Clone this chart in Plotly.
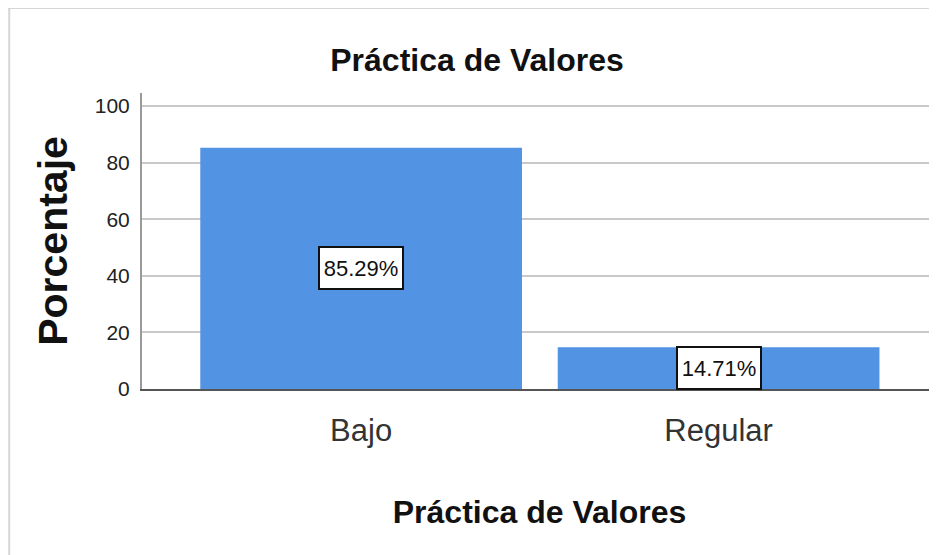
import plotly.graph_objects as go

categorias = ['Bajo', 'Regular']
porcentajes = [85.29, 14.71]
etiquetas = ['85.29%', '14.71%']
ticks_y = [0, 20, 40, 60, 80, 100]

fig = go.Figure()

fig.add_trace(go.Bar(
    x=categorias,
    y=porcentajes,
    width=0.9,
    marker=dict(color='#5393e3', line=dict(width=0)),
    showlegend=False,
    hoverinfo='skip'
))

# value labels in white boxes, placed at the middle of each bar
for c, v, t in zip(categorias, porcentajes, etiquetas):
    fig.add_annotation(
        x=c, y=v / 2, text=t, showarrow=False,
        font=dict(family='Liberation Sans, Arial', size=22, color='#111111'),
        bgcolor='white', bordercolor='#111111', borderwidth=2, borderpad=3,
        width=76, height=34
    )

# thin grey frame around the picture (top and left edges)
fig.add_shape(type='line', xref='paper', yref='paper',
              x0=-0.17, x1=1.0, y0=1.287, y1=1.287,
              line=dict(color='#d6d6d6', width=2))
fig.add_shape(type='line', xref='paper', yref='paper',
              x0=-0.167, x1=-0.167, y0=1.287, y1=-0.6,
              line=dict(color='#d6d6d6', width=2))

# page body has an 8px margin, so the figure is 8px smaller on each side
fig.update_layout(
    width=929, height=547,
    margin=dict(l=134, r=0, t=85, b=166),
    paper_bgcolor='white',
    plot_bgcolor='white',
    font=dict(family='Liberation Sans, Arial', color='#111111'),
    title=dict(
        text='<b>Práctica de Valores</b>',
        x=469 / 929, xanchor='center', xref='container',
        y=1 - 52 / 547, yanchor='middle', yref='container',
        font=dict(size=32, color='#111111')
    ),
    bargap=0.1,
)

fig.update_xaxes(
    type='category',
    range=[-0.613, 1.611],
    showline=True, linecolor='#555555', linewidth=2,
    showgrid=False, ticks='',
    tickfont=dict(size=31, color='#333333'),
    ticklabelstandoff=13,
    title=dict(text='<b>Práctica de Valores</b>',
               font=dict(size=32, color='#111111'), standoff=53),
)

fig.update_yaxes(
    range=[0, 104.6],
    tickvals=ticks_y,
    showline=True, linecolor='#9a9a9a', linewidth=2,
    showgrid=True, gridcolor='#c9c9c9', gridwidth=2,
    zeroline=False, ticks='',
    tickfont=dict(size=21, color='#222222'),
    ticklabelstandoff=6,
    title=dict(text='<b>Porcentaje</b>',
               font=dict(size=41, color='#111111'), standoff=14),
)

fig.write_html('out.html')
